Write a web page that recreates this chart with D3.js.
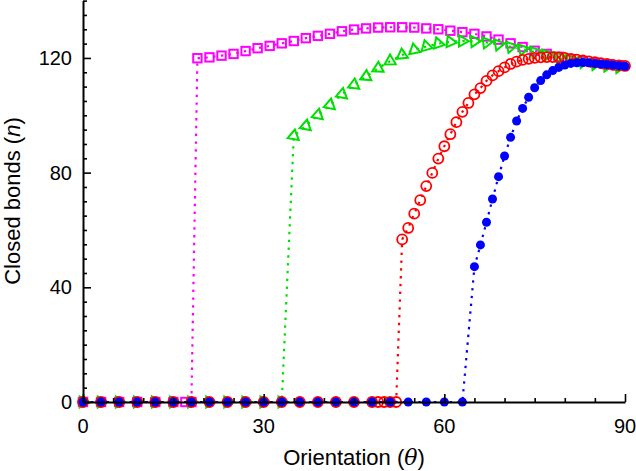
<!DOCTYPE html>
<html><head><meta charset="utf-8">
<script src="https://cdnjs.cloudflare.com/ajax/libs/d3/7.8.5/d3.min.js"></script>
<style>body{margin:0;background:#fff}svg{display:block}text{font-family:"Liberation Sans",Arial,Helvetica,sans-serif;fill:#000}</style>
</head><body><svg id="c" width="636" height="471"></svg>
<script>
// ---- data ----
const xTicks = [0, 30, 60, 90];
const yTicks = [0, 40, 80, 120];
const xLabel = "Orientation";
const yLabel = "Closed bonds";

// magenta squares
const magentaTheta = [0,3,6,9,12,15,17,18,19,21,23,25,27,29,31,33,35,37,39,41,43,45,47,49,51,53,55,57,59,61,63,65,67,69,71,73,75,77,79,81,83,85,87,89];
const magentaN     = [0,0,0,0,0,0,0,0,119.9,120.2,120.8,121.4,122.4,123.4,124.2,125.1,125.9,126.9,127.7,128.4,129.3,129.9,130.3,130.6,130.7,130.7,130.6,130.3,130.0,129.5,129.0,128.4,127.5,126.4,125.1,123.8,122.5,121.4,120.4,119.6,118.9,118.3,117.8,117.4];
// green triangles
const greenTheta = [0,3,6,9,12,15,18,21,24,27,30,33,35,37,39,41,43,45,47,49,51,53,55,57,59,61,63,65,67,69,71,73,75,77,79,81,83,85,87,89];
const greenN     = [0,0,0,0,0,0,0,0,0,0,0,0,92.8,96.3,100.1,103.6,107.3,110.6,113.5,116.4,118.9,121.0,122.8,124.0,125.0,125.6,125.9,125.8,125.4,124.7,123.9,123.0,122.1,121.2,120.3,119.4,118.6,117.9,117.3,116.8];
// red open circles
const redTheta = [0,3,6,9,12,15,18,21,24,27,30,33,36,39,42,45,48,49,50,51,52,53,54,55,56,57,58,59,60,61,62,63,64,65,66,67,68,69,70,71,72,73,74,75,76,77,78,79,80,81,82,83,84,85,86,87,88,89,90];
const redN     = [0,0,0,0,0,0,0,0,0,0,0,0,0,0,0,0,0,0,0,0,0,56.7,60.7,65.7,70.4,75.3,79.9,84.9,89.2,93.4,97.6,101.2,104.3,107.3,109.5,112.0,113.9,115.4,116.7,117.9,118.7,119.3,119.7,120.0,120.2,120.3,120.3,120.2,120.0,119.7,119.4,119.1,118.8,118.5,118.2,117.9,117.6,117.4,117.2];
// blue filled circles
const blueTheta = [0,3,6,9,12,15,18,21,24,27,30,33,36,39,42,45,48,51,54,57,60,63,65,66,67,68,69,70,71,72,73,74,75,76,77,78,79,80,81,82,83,84,85,86,87,88,89,90];
const blueN     = [0,0,0,0,0,0,0,0,0,0,0,0,0,0,0,0,0,0,0,0,0,0,47.2,54.8,62.7,70.8,78.6,85.8,92.3,98.0,102.4,106.3,109.6,112.1,114.1,115.6,116.7,117.5,118.1,118.3,118.4,118.3,118.1,117.9,117.7,117.5,117.3,117.1];

// ---- chart ----
const svg = d3.select("#c");
const x = d3.scaleLinear().domain([0, 90]).range([83, 625]);
const y = d3.scaleLinear().domain([0, 140]).range([402, 0.6]);

const zip = (t, n) => t.map((v, i) => ({t: v, n: n[i]}));
const series = [
  {name: "magenta", color: "#ff00ff", data: zip(magentaTheta, magentaN), marker: "square"},
  {name: "green", color: "#00e000", data: zip(greenTheta, greenN), marker: "triangle"},
  {name: "red", color: "#ff0000", data: zip(redTheta, redN), marker: "circle"},
  {name: "blue", color: "#0000ff", data: zip(blueTheta, blueN), marker: "dot"}
];

// visual tangent angle (degrees, upward positive) within the same branch
function tangent(data, i) {
  const d = data[i];
  const same = j => j >= 0 && j < data.length && ((data[j].n > 0) === (d.n > 0));
  const a = same(i - 1) ? data[i - 1] : d;
  const b = same(i + 1) ? data[i + 1] : d;
  if (a === b) return 0;
  return Math.atan2(-(y(b.n) - y(a.n)), x(b.t) - x(a.t)) * 180 / Math.PI;
}

const line = d3.line().x(d => x(d.t)).y(d => y(d.n));

series.forEach(s => {
  const g = svg.append("g");
  const m = g.selectAll(".m").data(s.data).enter();
  if (s.marker === "square") {
    m.append("rect").attr("x", d => x(d.t) - 4.2).attr("y", d => y(d.n) - 4.2)
      .attr("width", 8.4).attr("height", 8.4)
      .attr("fill", "none").attr("stroke", s.color).attr("stroke-width", 2);
  } else if (s.marker === "triangle") {
    const sym = d3.symbol().type(d3.symbolTriangle).size(55);
    m.append("path").attr("d", sym)
      .attr("transform", (d, i) => `translate(${x(d.t)},${y(d.n)}) rotate(${90 + tangent(s.data, i)})`)
      .attr("fill", "none").attr("stroke", s.color).attr("stroke-width", 2);
  } else if (s.marker === "circle") {
    m.append("circle").attr("cx", d => x(d.t)).attr("cy", d => y(d.n)).attr("r", 5)
      .attr("fill", "none").attr("stroke", s.color).attr("stroke-width", 1.8);
  } else {
    m.append("circle").attr("cx", d => x(d.t)).attr("cy", d => y(d.n)).attr("r", 4.5)
      .attr("fill", s.color);
  }
  g.append("path").datum(s.data).attr("d", line)
    .attr("fill", "none").attr("stroke", s.color).attr("stroke-width", 2.2)
    .attr("stroke-dasharray", "2.4,5.4");
});

// axes
const xAxis = d3.axisBottom(x).tickValues(d3.range(0, 91, 5)).tickSizeInner(-4).tickSizeOuter(0).tickFormat("");
const yAxis = d3.axisLeft(y).tickValues(d3.range(0, 141, 5)).tickSizeInner(-4).tickSizeOuter(0).tickFormat("");
const gx = svg.append("g").attr("transform", "translate(0,402)").call(xAxis);
const gy = svg.append("g").attr("transform", "translate(83,0)").call(yAxis);
[gx, gy].forEach(g => {
  g.select(".domain").attr("stroke", "#000").attr("stroke-width", 2);
  g.selectAll(".tick line").attr("stroke", "#000").attr("stroke-width", 1.6);
});
gx.selectAll(".tick").filter(d => xTicks.includes(d)).select("line").attr("y2", -8);
gy.selectAll(".tick").filter(d => yTicks.includes(d)).select("line").attr("x2", 8);

svg.append("g").selectAll("text").data(xTicks).enter().append("text")
  .attr("x", d => x(d)).attr("y", 433).attr("text-anchor", "middle")
  .attr("font-size", 20).text(d => d);
svg.append("g").selectAll("text").data(yTicks).enter().append("text")
  .attr("x", 72).attr("y", d => y(d) + 7).attr("text-anchor", "end")
  .attr("font-size", 20).text(d => d);

const xl = svg.append("text").attr("x", 354).attr("y", 465).attr("text-anchor", "middle").attr("font-size", 22);
xl.append("tspan").text(xLabel + " (");
xl.append("tspan").attr("font-style", "italic").attr("font-family", "DejaVu Serif, serif").text("θ");
xl.append("tspan").text(")");
const yl = svg.append("text").attr("transform", "translate(20,201) rotate(-90)").attr("text-anchor", "middle").attr("font-size", 22);
yl.append("tspan").text(yLabel + " (");
yl.append("tspan").attr("font-style", "italic").text("n");
yl.append("tspan").text(")");
</script></body></html>
